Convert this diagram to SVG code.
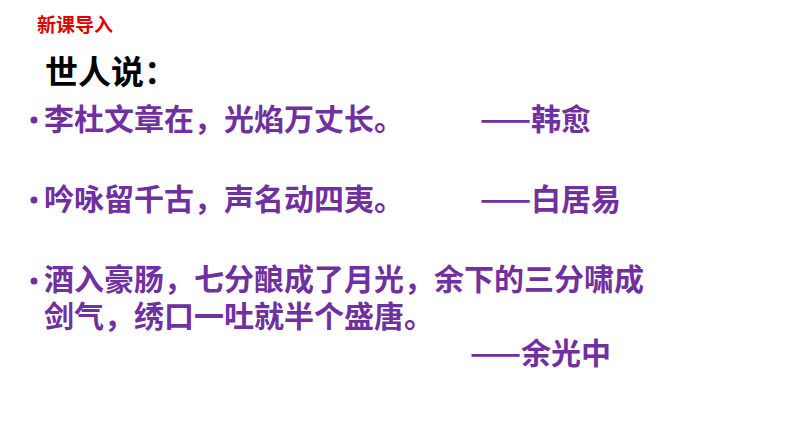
<svg xmlns="http://www.w3.org/2000/svg" width="794" height="447" viewBox="0 0 794 447">
<style>
text{font-family:"Noto Sans CJK SC","Liberation Sans",sans-serif;font-weight:bold}
.p{fill:#7030a0;font-size:30px}
</style>
<rect width="794" height="447" fill="#fff"/>
<text x="37" y="32" font-size="19" fill="#e00000">新课导入</text>
<text x="45" y="84" font-size="33" fill="#000">世人说：</text>
<g class="p">
<circle cx="34" cy="120" r="3.5" fill="#7030a0"/>
<text class="p" x="44" y="130">李杜文章在，光焰万丈长。</text>
<text class="p" x="480" y="130">——韩愈</text>
<circle cx="34" cy="200" r="3.5" fill="#7030a0"/>
<text class="p" x="44" y="210">吟咏留千古，声名动四夷。</text>
<text class="p" x="480" y="210">——白居易</text>
<circle cx="34" cy="281" r="3.5" fill="#7030a0"/>
<text class="p" x="44" y="290">酒入豪肠，七分酿成了月光，余下的三分啸成</text>
<text class="p" x="44" y="327">剑气，绣口一吐就半个盛唐。</text>
<text class="p" x="470" y="364">——余光中</text>
</g>
</svg>
